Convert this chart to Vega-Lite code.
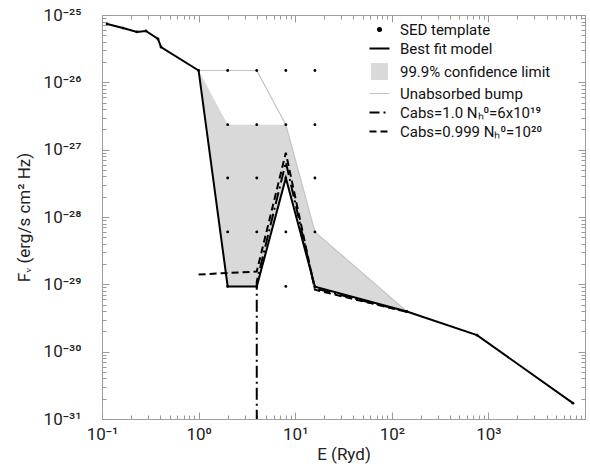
{
  "$schema": "https://vega.github.io/schema/vega-lite/v6.json",
  "width": 483,
  "height": 404,
  "autosize": {"type": "none"},
  "padding": {"left": 102, "top": 15, "right": 5, "bottom": 53},
  "config": {
    "view": {"stroke": "#a0a0a0", "strokeWidth": 1},
    "font": "Roboto",
    "axis": {"grid": false, "domain": false, "tickColor": "#999999", "labelFont": "Roboto", "labelColor": "#222222", "labelFontSize": 17, "titleFont": "Roboto", "titleFontSize": 17, "titleFontWeight": "normal", "titleColor": "#222222"}
  },
  "datasets": {
    "fit": [
      {"E": 0.113, "F": 7.35e-26, "i": 1, "series": "Best fit model"},
      {"E": 0.165, "F": 6.4e-26, "i": 2, "series": "Best fit model"},
      {"E": 0.23, "F": 5.6e-26, "i": 3, "series": "Best fit model"},
      {"E": 0.285, "F": 5.8e-26, "i": 4, "series": "Best fit model"},
      {"E": 0.38, "F": 4.4e-26, "i": 5, "series": "Best fit model"},
      {"E": 0.408, "F": 3.35e-26, "i": 6, "series": "Best fit model"},
      {"E": 1.0, "F": 1.5e-26, "i": 7, "series": "Best fit model"},
      {"E": 2.0, "F": 9.3e-30, "i": 8, "series": "Best fit model"},
      {"E": 4.0, "F": 9.3e-30, "i": 9, "series": "Best fit model"},
      {"E": 8.0, "F": 3.8e-28, "i": 10, "series": "Best fit model"},
      {"E": 16.0, "F": 9.2e-30, "i": 11, "series": "Best fit model"},
      {"E": 143, "F": 3.95e-30, "i": 12, "series": "Best fit model"},
      {"E": 762, "F": 1.76e-30, "i": 13, "series": "Best fit model"},
      {"E": 7500, "F": 1.72e-31, "i": 14, "series": "Best fit model"}
    ],
    "bump": [
      {"E": 1.0, "F": 1.5e-26, "i": 1, "series": "Unabsorbed bump"},
      {"E": 2.0, "F": 1.5e-26, "i": 2, "series": "Unabsorbed bump"},
      {"E": 4.0, "F": 1.5e-26, "i": 3, "series": "Unabsorbed bump"},
      {"E": 8.0, "F": 2.35e-27, "i": 4, "series": "Unabsorbed bump"},
      {"E": 16.0, "F": 6e-29, "i": 5, "series": "Unabsorbed bump"},
      {"E": 143, "F": 3.95e-30, "i": 6, "series": "Unabsorbed bump"}
    ],
    "band": [
      {"E": 1.0, "hi": 1.5e-26, "lo": 1.5e-26, "series": "99.9% confidence limit"},
      {"E": 2.0, "hi": 2.35e-27, "lo": 9.3e-30, "series": "99.9% confidence limit"},
      {"E": 4.0, "hi": 2.35e-27, "lo": 9.3e-30, "series": "99.9% confidence limit"},
      {"E": 8.0, "hi": 2.35e-27, "lo": 3.8e-28, "series": "99.9% confidence limit"},
      {"E": 16.0, "hi": 6e-29, "lo": 9.2e-30, "series": "99.9% confidence limit"},
      {"E": 143, "hi": 3.95e-30, "lo": 3.95e-30, "series": "99.9% confidence limit"}
    ],
    "dash": [
      {"E": 1.0, "F": 1.4e-29, "i": 1, "series": "Cabs=0.999 Nₕ⁰=10²⁰"},
      {"E": 4.0, "F": 1.55e-29, "i": 2, "series": "Cabs=0.999 Nₕ⁰=10²⁰"},
      {"E": 8.0, "F": 9e-28, "i": 3, "series": "Cabs=0.999 Nₕ⁰=10²⁰"},
      {"E": 16.0, "F": 8.3e-30, "i": 4, "series": "Cabs=0.999 Nₕ⁰=10²⁰"},
      {"E": 143, "F": 3.9e-30, "i": 5, "series": "Cabs=0.999 Nₕ⁰=10²⁰"}
    ],
    "dashdot": [
      {"E": 4.0, "F": 1e-33, "i": 1, "series": "Cabs=1.0 Nₕ⁰=6x10¹⁹"},
      {"E": 4.0, "F": 1.1e-29, "i": 2, "series": "Cabs=1.0 Nₕ⁰=6x10¹⁹"},
      {"E": 8.0, "F": 6.5e-28, "i": 3, "series": "Cabs=1.0 Nₕ⁰=6x10¹⁹"},
      {"E": 16.0, "F": 8.7e-30, "i": 4, "series": "Cabs=1.0 Nₕ⁰=6x10¹⁹"},
      {"E": 143, "F": 3.9e-30, "i": 5, "series": "Cabs=1.0 Nₕ⁰=6x10¹⁹"}
    ],
    "sed": [
      {"E": 0.113, "F": 7.35e-26, "series": "SED template"},
      {"E": 0.165, "F": 6.4e-26, "series": "SED template"},
      {"E": 0.23, "F": 5.6e-26, "series": "SED template"},
      {"E": 0.285, "F": 5.8e-26, "series": "SED template"},
      {"E": 0.38, "F": 4.4e-26, "series": "SED template"},
      {"E": 0.408, "F": 3.35e-26, "series": "SED template"},
      {"E": 1.0, "F": 1.5e-26, "series": "SED template"},
      {"E": 2.0, "F": 1.5e-26, "series": "SED template"},
      {"E": 4.0, "F": 1.5e-26, "series": "SED template"},
      {"E": 8.0, "F": 1.5e-26, "series": "SED template"},
      {"E": 16.0, "F": 1.5e-26, "series": "SED template"},
      {"E": 2.0, "F": 2.35e-27, "series": "SED template"},
      {"E": 4.0, "F": 2.35e-27, "series": "SED template"},
      {"E": 8.0, "F": 2.35e-27, "series": "SED template"},
      {"E": 16.0, "F": 2.35e-27, "series": "SED template"},
      {"E": 2.0, "F": 3.8e-28, "series": "SED template"},
      {"E": 4.0, "F": 3.8e-28, "series": "SED template"},
      {"E": 8.0, "F": 3.8e-28, "series": "SED template"},
      {"E": 16.0, "F": 3.8e-28, "series": "SED template"},
      {"E": 2.0, "F": 6e-29, "series": "SED template"},
      {"E": 4.0, "F": 6e-29, "series": "SED template"},
      {"E": 8.0, "F": 6e-29, "series": "SED template"},
      {"E": 16.0, "F": 6e-29, "series": "SED template"},
      {"E": 2.0, "F": 9.3e-30, "series": "SED template"},
      {"E": 4.0, "F": 9.3e-30, "series": "SED template"},
      {"E": 8.0, "F": 9.3e-30, "series": "SED template"},
      {"E": 16.0, "F": 9.2e-30, "series": "SED template"},
      {"E": 143, "F": 3.95e-30, "series": "SED template"},
      {"E": 762, "F": 1.76e-30, "series": "SED template"},
      {"E": 7500, "F": 1.72e-31, "series": "SED template"}
    ]
  },
  "resolve": {"axis": {"x": "independent", "y": "independent"}},
  "layer": [
    {
      "encoding": {
        "x": {
          "field": "E", "type": "quantitative",
          "scale": {"type": "log", "domain": [0.1, 10000], "nice": false},
          "axis": {
            "orient": "bottom",
            "title": "E (Ryd)",
            "titlePadding": 1,
            "values": [0.1,0.2,0.3,0.4,0.5,0.6,0.7,0.8,0.9,1,2,3,4,5,6,7,8,9,10,20,30,40,50,60,70,80,90,100,200,300,400,500,600,700,800,900,1000,2000,3000,4000,5000,6000,7000,8000,9000,10000],
            "labelExpr": "datum.value == 0.1 ? '10⁻¹' : datum.value == 1 ? '10⁰' : datum.value == 10 ? '10¹' : datum.value == 100 ? '10²' : datum.value == 1000 ? '10³' : ''",
            "tickSize": {"condition": {"test": "abs(log(datum.value)/LN10 - round(log(datum.value)/LN10)) < 0.001", "value": -7}, "value": -4},
            "labelPadding": 14,
            "labelFlush": false,
            "labelOverlap": false
          }
        },
        "y": {
          "field": "F", "type": "quantitative",
          "scale": {"type": "log", "domain": [1e-31, 1e-25], "nice": false},
          "axis": {
            "orient": "left",
            "title": "Fᵥ (erg/s cm² Hz)",
            "titlePadding": 10,
            "values": [1e-31,2e-31,3e-31,4e-31,5e-31,6e-31,7e-31,8e-31,9e-31,1e-30,2e-30,3e-30,4e-30,5e-30,6e-30,7e-30,8e-30,9e-30,1e-29,2e-29,3e-29,4e-29,5e-29,6e-29,7e-29,8e-29,9e-29,1e-28,2e-28,3e-28,4e-28,5e-28,6e-28,7e-28,8e-28,9e-28,1e-27,2e-27,3e-27,4e-27,5e-27,6e-27,7e-27,8e-27,9e-27,1e-26,2e-26,3e-26,4e-26,5e-26,6e-26,7e-26,8e-26,9e-26,1e-25],
            "labelExpr": "datum.value == 1e-25 ? '10⁻²⁵' : datum.value == 1e-26 ? '10⁻²⁶' : datum.value == 1e-27 ? '10⁻²⁷' : datum.value == 1e-28 ? '10⁻²⁸' : datum.value == 1e-29 ? '10⁻²⁹' : datum.value == 1e-30 ? '10⁻³⁰' : datum.value == 1e-31 ? '10⁻³¹' : ''",
            "tickSize": {"condition": {"test": "abs(log(datum.value)/LN10 - round(log(datum.value)/LN10)) < 0.001", "value": -7}, "value": -4},
            "labelPadding": 28,
            "labelFlush": false,
            "labelOverlap": false
          }
        },
        "color": {
          "field": "series", "type": "nominal",
          "scale": {"domain": ["SED template", "Best fit model", "99.9% confidence limit", "Unabsorbed bump", "Cabs=1.0 Nₕ⁰=6x10¹⁹", "Cabs=0.999 Nₕ⁰=10²⁰"], "range": ["black", "black", "#d9d9d9", "#c4c4c4", "black", "black"]},
          "legend": {
            "title": null,
            "orient": "none",
            "legendX": 270,
            "legendY": 7,
            "labelFont": "Roboto",
            "labelFontSize": 15,
            "labelColor": "#111111",
            "labelOffset": 13,
            "labelLimit": 300,
            "rowPadding": 3,
            "symbolSize": 400,
            "encode": {
              "symbols": {
                "update": {
                  "shape": {"signal": "datum.value === 'SED template' ? 'circle' : datum.value === '99.9% confidence limit' ? 'square' : 'stroke'"},
                  "size": {"signal": "datum.value === 'SED template' ? 10 : datum.value === '99.9% confidence limit' ? 220 : 400"},
                  "fill": {"signal": "datum.value === 'SED template' ? 'black' : datum.value === '99.9% confidence limit' ? '#d9d9d9' : 'transparent'"},
                  "stroke": {"signal": "datum.value === 'SED template' || datum.value === '99.9% confidence limit' ? 'transparent' : datum.value === 'Unabsorbed bump' ? '#c4c4c4' : 'black'"},
                  "strokeWidth": {"signal": "datum.value === 'Unabsorbed bump' ? 1.2 : 2"},
                  "strokeDash": {"signal": "datum.value === 'Cabs=1.0 Nₕ⁰=6x10¹⁹' ? [10, 4, 2, 4] : datum.value === 'Cabs=0.999 Nₕ⁰=10²⁰' ? [7, 4] : [1, 0]"},
                  "opacity": {"value": 1}
                }
              }
            }
          }
        }
      },
      "layer": [
        {
          "data": {"name": "band"},
          "mark": {"type": "area", "opacity": 1, "clip": true},
          "encoding": {
            "y": {"field": "hi", "type": "quantitative", "scale": {"type": "log", "domain": [1e-31, 1e-25], "nice": false}},
            "y2": {"field": "lo"}
          }
        },
        {
          "data": {"name": "bump"},
          "mark": {"type": "line", "strokeWidth": 1.2, "clip": true},
          "encoding": {"order": {"field": "i", "type": "quantitative"}}
        },
        {
          "data": {"name": "fit"},
          "mark": {"type": "line", "strokeWidth": 2, "clip": true},
          "encoding": {"order": {"field": "i", "type": "quantitative"}}
        },
        {
          "data": {"name": "dash"},
          "mark": {"type": "line", "strokeWidth": 2, "strokeDash": [7, 4], "clip": true},
          "encoding": {"order": {"field": "i", "type": "quantitative"}}
        },
        {
          "data": {"name": "dashdot"},
          "mark": {"type": "line", "strokeWidth": 2, "strokeDash": [12, 4, 2, 4], "clip": true},
          "encoding": {"order": {"field": "i", "type": "quantitative"}}
        }
      ]
    },
    {
      "data": {"name": "sed"},
      "mark": {"type": "circle", "size": 8, "opacity": 1},
      "encoding": {
        "x": {
          "field": "E", "type": "quantitative",
          "scale": {"type": "log", "domain": [0.1, 10000], "nice": false},
          "axis": {
            "orient": "top", "title": null, "labels": false,
            "values": [0.1,0.2,0.3,0.4,0.5,0.6,0.7,0.8,0.9,1,2,3,4,5,6,7,8,9,10,20,30,40,50,60,70,80,90,100,200,300,400,500,600,700,800,900,1000,2000,3000,4000,5000,6000,7000,8000,9000,10000],
            "tickSize": {"condition": {"test": "abs(log(datum.value)/LN10 - round(log(datum.value)/LN10)) < 0.001", "value": -7}, "value": -4}
          }
        },
        "y": {
          "field": "F", "type": "quantitative",
          "scale": {"type": "log", "domain": [1e-31, 1e-25], "nice": false},
          "axis": {
            "orient": "right", "title": null, "labels": false,
            "values": [1e-31,2e-31,3e-31,4e-31,5e-31,6e-31,7e-31,8e-31,9e-31,1e-30,2e-30,3e-30,4e-30,5e-30,6e-30,7e-30,8e-30,9e-30,1e-29,2e-29,3e-29,4e-29,5e-29,6e-29,7e-29,8e-29,9e-29,1e-28,2e-28,3e-28,4e-28,5e-28,6e-28,7e-28,8e-28,9e-28,1e-27,2e-27,3e-27,4e-27,5e-27,6e-27,7e-27,8e-27,9e-27,1e-26,2e-26,3e-26,4e-26,5e-26,6e-26,7e-26,8e-26,9e-26,1e-25],
            "tickSize": {"condition": {"test": "abs(log(datum.value)/LN10 - round(log(datum.value)/LN10)) < 0.001", "value": -7}, "value": -4}
          }
        },
        "color": {
          "field": "series", "type": "nominal",
          "scale": {"domain": ["SED template", "Best fit model", "99.9% confidence limit", "Unabsorbed bump", "Cabs=1.0 Nₕ⁰=6x10¹⁹", "Cabs=0.999 Nₕ⁰=10²⁰"], "range": ["black", "black", "#d9d9d9", "#c4c4c4", "black", "black"]},
          "legend": {
            "title": null,
            "orient": "none",
            "legendX": 270,
            "legendY": 7,
            "labelFont": "Roboto",
            "labelFontSize": 15,
            "labelColor": "#111111",
            "labelOffset": 13,
            "labelLimit": 300,
            "rowPadding": 3,
            "symbolSize": 400,
            "encode": {
              "symbols": {
                "update": {
                  "shape": {"signal": "datum.value === 'SED template' ? 'circle' : datum.value === '99.9% confidence limit' ? 'square' : 'stroke'"},
                  "size": {"signal": "datum.value === 'SED template' ? 10 : datum.value === '99.9% confidence limit' ? 220 : 400"},
                  "fill": {"signal": "datum.value === 'SED template' ? 'black' : datum.value === '99.9% confidence limit' ? '#d9d9d9' : 'transparent'"},
                  "stroke": {"signal": "datum.value === 'SED template' || datum.value === '99.9% confidence limit' ? 'transparent' : datum.value === 'Unabsorbed bump' ? '#c4c4c4' : 'black'"},
                  "strokeWidth": {"signal": "datum.value === 'Unabsorbed bump' ? 1.2 : 2"},
                  "strokeDash": {"signal": "datum.value === 'Cabs=1.0 Nₕ⁰=6x10¹⁹' ? [10, 4, 2, 4] : datum.value === 'Cabs=0.999 Nₕ⁰=10²⁰' ? [7, 4] : [1, 0]"},
                  "opacity": {"value": 1}
                }
              }
            }
          }
        }
      }
    }
  ]
}
